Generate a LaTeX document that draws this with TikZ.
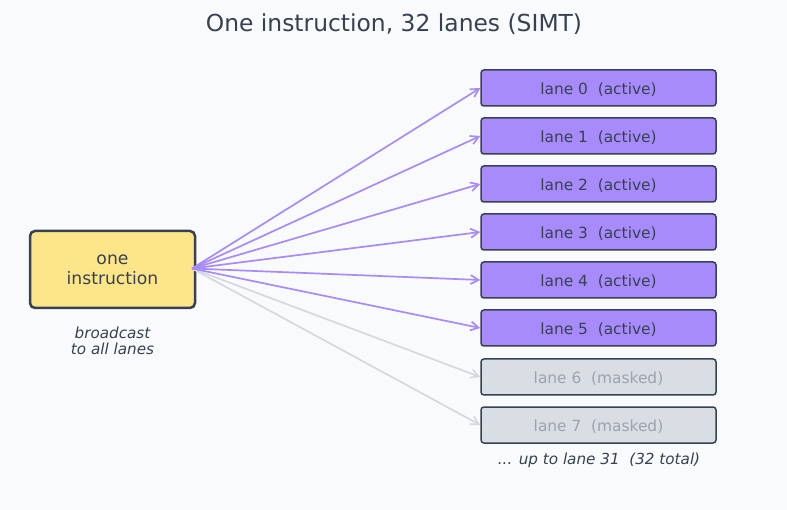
\documentclass[tikz,border=0pt]{standalone}
\usepackage{fontspec}
\setmainfont{DejaVu Sans}
\usetikzlibrary{arrows.meta}
\definecolor{bgcol}{HTML}{F9FAFC}
\definecolor{inkcol}{HTML}{374151}
\definecolor{activecol}{HTML}{A78BFA}
\definecolor{maskcol}{HTML}{D9DEE5}
\definecolor{masktext}{HTML}{9CA3AF}
\definecolor{maskline}{HTML}{D5D9DF}
\definecolor{instrcol}{HTML}{FDE68A}
\begin{document}
\begin{tikzpicture}[
    x=1pt, y=-1pt,
    lane/.style={
        draw=inkcol,
        line width=1.5pt,
        rounded corners=3pt,
        inner sep=0pt,
        text height=13pt,
        text depth=0pt,
        minimum width=235pt,
        minimum height=36pt,
        font=\fontsize{15.4}{18}\selectfont
    },
    active/.style={lane, fill=activecol, text=inkcol},
    masked/.style={lane, fill=maskcol, text=masktext},
    instr/.style={
        draw=inkcol,
        line width=2.5pt,
        rounded corners=5pt,
        fill=instrcol,
        text=inkcol,
        align=center,
        inner sep=0pt,
        minimum width=165pt,
        minimum height=77pt,
        font=\fontsize{17.2}{20}\selectfont
    },
    note/.style={text=inkcol, align=center, font=\fontsize{15.2}{16.5}\selectfont\itshape},
    arr/.style={-{Straight Barb[length=8pt,width=9pt]}, line width=1.7pt, draw=activecol},
    marr/.style={arr, draw=maskline}
]
    \fill[bgcol] (0,0) rectangle (787,510);
    \useasboundingbox (0,0) rectangle (787,510);

    \node[text=inkcol, font=\fontsize{23.4}{26}\selectfont] (title) at (394,24) {One instruction, 32 lanes (SIMT)};

    \node[instr] (instr) at (112.5,269.5) {one\\instruction};
    \node[note] (bcast) at (112.5,341) {broadcast\\to all lanes};
    \coordinate (src) at (192,268.5);

    \node[active] (lane0) at (598.5,88) {lane 0\ \ (active)};
    \node[active] (lane1) at (598.5,136) {lane 1\ \ (active)};
    \node[active] (lane2) at (598.5,184) {lane 2\ \ (active)};
    \node[active] (lane3) at (598.5,232) {lane 3\ \ (active)};
    \node[active] (lane4) at (598.5,280) {lane 4\ \ (active)};
    \node[active] (lane5) at (598.5,328) {lane 5\ \ (active)};
    \node[masked] (lane6) at (598.5,377) {lane 6\ \ (masked)};
    \node[masked] (lane7) at (598.5,425) {lane 7\ \ (masked)};
    \node[note] (more) at (599,460) {... up to lane 31\ \ (32 total)};

    \draw[marr] (src) -- (lane6.west);
    \draw[marr] (src) -- (lane7.west);
    \draw[arr] (src) -- (lane0.west);
    \draw[arr] (src) -- (lane1.west);
    \draw[arr] (src) -- (lane2.west);
    \draw[arr] (src) -- (lane3.west);
    \draw[arr] (src) -- (lane4.west);
    \draw[arr] (src) -- (lane5.west);
\end{tikzpicture}
\end{document}
